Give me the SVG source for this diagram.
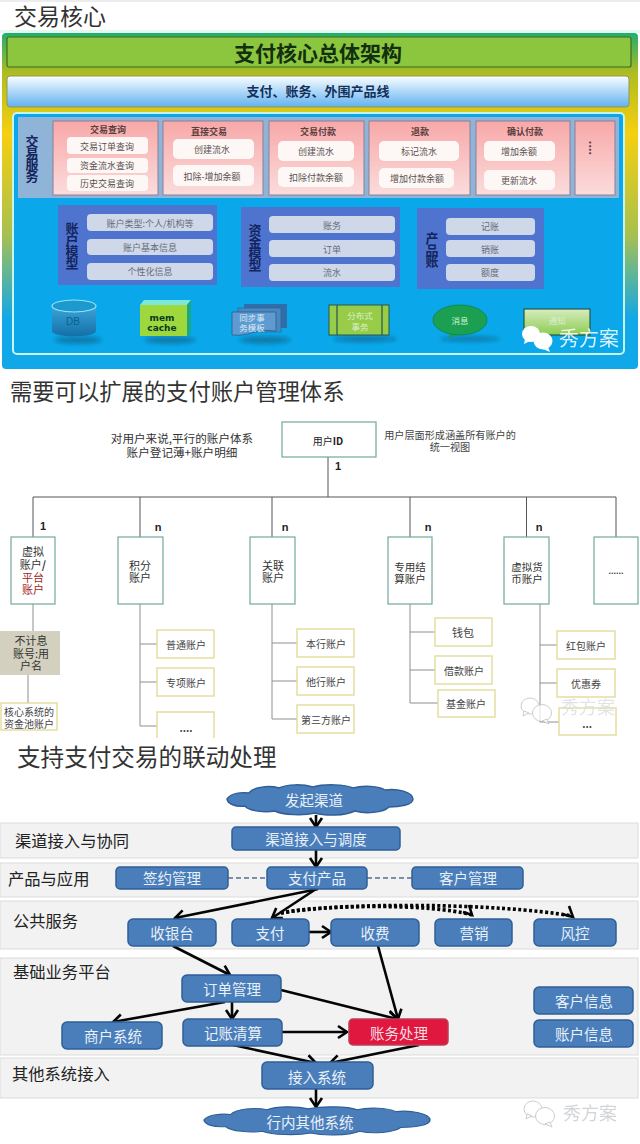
<svg xmlns="http://www.w3.org/2000/svg" width="640" height="1144" viewBox="0 0 640 1144">
<style>
text{font-family:"Noto Sans CJK SC","Liberation Sans",sans-serif;text-anchor:middle;dominant-baseline:central}
.h{font-size:23px;fill:#333;text-anchor:start}
.cell{fill:url(#pink);stroke:#8a7f96;stroke-width:1}
.mini{fill:#fdf8f6}
.t9{font-size:9px;fill:#5a5050}
.tb{font-size:9px;fill:#5a4040;font-weight:700}
.model{fill:#4f74d0}
.pill{fill:#cfd8e8}
.side{font-size:13px;font-weight:700;fill:#14245c;writing-mode:vertical-rl;letter-spacing:-1.5px}
.tp{font-size:9px;fill:#666c7c}
.wt{font-size:8.5px;fill:#d8f0d0}
.box{fill:#fff;stroke:#72a89c;stroke-width:1.2}
.sub{fill:#fff;stroke:#e2dc9a;stroke-width:1.4}
.wire{fill:none;stroke:#8d9090;stroke-width:1}
.bus{fill:none;stroke:#555;stroke-width:1}
.t11{font-size:11px;fill:#333}
.t10{font-size:10px;fill:#444}
.num{font-size:11px;fill:#222;font-weight:700;font-family:"Liberation Sans",sans-serif}
.band{fill:#f2f2f2;stroke:#dcdcdc;stroke-width:1}
.lab{font-size:16.3px;fill:#222;text-anchor:start}
.n{fill:#4a7ebb;stroke:#2f5f98;stroke-width:1.5}
.nt{font-size:14.5px;fill:#e8f0f8}
.a{fill:none;stroke:#050505;stroke-width:2.6;marker-end:url(#arr)}
.d{fill:none;stroke:#050505;stroke-width:3.6;stroke-dasharray:3 2.4;}
.g{fill:none;stroke:#7c8ea8;stroke-width:2;stroke-dasharray:5 3}
.wm{font-size:20px}
</style>
<defs>
<linearGradient id="pink" x1="0" y1="0" x2="0" y2="1"><stop offset="0" stop-color="#f8a8a8"/><stop offset="1" stop-color="#fbdcdc"/></linearGradient>
<linearGradient id="outer" x1="0" y1="0" x2="0" y2="1"><stop offset="0" stop-color="#1fae70"/><stop offset=".12" stop-color="#b0bc20"/><stop offset=".3" stop-color="#f6cf10"/><stop offset=".6" stop-color="#a8c050"/><stop offset=".85" stop-color="#10a8e8"/></linearGradient>
<linearGradient id="sky" x1="0" y1="0" x2="0" y2="1"><stop offset="0" stop-color="#fbfdff"/><stop offset="1" stop-color="#62b2f0"/></linearGradient>
<linearGradient id="green" x1="0" y1="0" x2="0" y2="1"><stop offset="0" stop-color="#d8ecc0"/><stop offset="1" stop-color="#8ccc50"/></linearGradient>
<linearGradient id="dbg" x1="0" y1="0" x2="0" y2="1"><stop offset="0" stop-color="#3aa4d8"/><stop offset="1" stop-color="#1470a8"/></linearGradient>
<filter id="bl" x="-30%" y="-100%" width="160%" height="300%"><feGaussianBlur stdDeviation="2"/></filter>
<marker id="arr" markerUnits="userSpaceOnUse" markerWidth="16" markerHeight="16" refX="13" refY="8" orient="auto"><path d="M4,2 L13,8 L4,14" fill="none" stroke="#050505" stroke-width="2.6"/></marker>
<path id="cloud" d="M0,14 C4,8 14,7 22,8 C26,2 42,0 52,3 C60,-1 76,-1 86,2 C96,-1 118,-1 126,3 C136,0 152,1 158,5 C170,3 186,7 186,14 C186,20 172,22 162,22 C156,28 138,29 128,26 C118,31 98,31 88,28 C76,31 56,30 48,26 C38,28 22,26 18,21 C8,22 1,19 0,14 Z"/>
<g id="wx"><ellipse cx="9" cy="9" rx="9" ry="8"/><path d="M3,14 L2,19 L8,16 Z"/><ellipse cx="21" cy="16" rx="9.5" ry="8.5"/><path d="M26,22 L28,27 L21,24 Z"/></g>
</defs>
<rect width="640" height="1144" fill="#fff"/>
<rect x="0" y="0" width="640" height="2" fill="#ececec"/>
<rect x="0" y="30" width="640" height="3" fill="#e4f8ee"/>

<text class="h" x="14" y="15">交易核心</text>
<text class="h" x="10" y="390" style="font-size:22.3px">需要可以扩展的支付账户管理体系</text>
<text class="h" x="17" y="756" style="font-size:23.6px">支持支付交易的联动处理</text>

<g id="panel-frame">
<rect x="2" y="33" width="636" height="336" rx="4" fill="url(#outer)"/>
<rect x="7" y="37" width="624" height="30" rx="2" fill="#8cc63f" stroke="#3f6a1c" stroke-width="1.2"/>
<text x="318" y="52" style="font-size:21px;font-weight:700;fill:#123010">支付核心总体架构</text>
<rect x="7" y="76" width="622" height="31" rx="3" fill="url(#sky)" stroke="#8a9a50" stroke-width="1"/>
<text x="318" y="90" style="font-size:13px;font-weight:700;fill:#14305a">支付、账务、外围产品线</text>
<rect x="13" y="113" width="611" height="241" rx="4" fill="#0aa8ea" stroke="#c8f4ee" stroke-width="2"/>
<rect x="18" y="117" width="601" height="81" fill="#8fb4d8"/>
<text class="side" x="32" y="158">交易服务</text>
</g>

<g id="cell-query"><rect class="cell" x="53" y="121" width="105" height="74"/><text class="tb" x="108" y="129">交易查询</text><rect class="mini" x="67" y="137" width="81" height="17" rx="4"/><text class="t9" x="107" y="146">交易订单查询</text><rect class="mini" x="67" y="158" width="81" height="15" rx="4"/><text class="t9" x="107" y="165">资金流水查询</text><rect class="mini" x="67" y="175" width="81" height="16" rx="4"/><text class="t9" x="107" y="183">历史交易查询</text></g>
<g id="cell-direct"><rect class="cell" x="163" y="121" width="100" height="74"/><text class="tb" x="209" y="131">直接交易</text><rect class="mini" x="173" y="139" width="81" height="20" rx="5"/><text class="t9" x="212" y="149">创建流水</text><rect class="mini" x="173" y="165" width="81" height="21" rx="5"/><text class="t9" x="212" y="176">扣除-增加余额</text></g>
<g id="cell-pay"><rect class="cell" x="269" y="121" width="95" height="74"/><text class="tb" x="318" y="131">交易付款</text><rect class="mini" x="278" y="141" width="76" height="20" rx="5"/><text class="t9" x="316" y="151">创建流水</text><rect class="mini" x="278" y="167" width="76" height="20" rx="5"/><text class="t9" x="316" y="177">扣除付款余额</text></g>
<g id="cell-refund"><rect class="cell" x="369" y="121" width="101" height="74"/><text class="tb" x="420" y="131">退款</text><rect class="mini" x="379" y="141" width="80" height="20" rx="5"/><text class="t9" x="419" y="151">标记流水</text><rect class="mini" x="379" y="168" width="75" height="20" rx="5"/><text class="t9" x="417" y="178">增加付款余额</text></g>
<g id="cell-confirm"><rect class="cell" x="476" y="121" width="94" height="74"/><text class="tb" x="525" y="131">确认付款</text><rect class="mini" x="484" y="141" width="71" height="20" rx="5"/><text class="t9" x="519" y="151">增加余额</text><rect class="mini" x="484" y="170" width="71" height="20" rx="5"/><text class="t9" x="519" y="180">更新流水</text></g>
<g id="cell-more"><rect class="cell" x="575" y="121" width="40" height="74"/><text class="tb" x="594" y="148" transform="rotate(90 594 148)" style="font-size:11px">....</text></g>

<g id="model-account"><rect class="model" x="58" y="205" width="159" height="80"/><text class="side" x="72" y="245">账户模型</text><rect class="pill" x="87" y="214" width="126" height="17" rx="4"/><text class="tp" x="150" y="223">账户类型:个人/机构等</text><rect class="pill" x="87" y="239" width="126" height="16" rx="4"/><text class="tp" x="150" y="247">账户基本信息</text><rect class="pill" x="87" y="263" width="126" height="17" rx="4"/><text class="tp" x="150" y="271">个性化信息</text></g>
<g id="model-capital"><rect class="model" x="241" y="207" width="159" height="80"/><text class="side" x="255" y="247">资金模型</text><rect class="pill" x="269" y="216" width="126" height="17" rx="4"/><text class="tp" x="332" y="225">账务</text><rect class="pill" x="269" y="240" width="126" height="17" rx="4"/><text class="tp" x="332" y="249">订单</text><rect class="pill" x="269" y="264" width="126" height="17" rx="4"/><text class="tp" x="332" y="272">流水</text></g>
<g id="model-product"><rect class="model" x="417" y="208" width="127" height="81"/><text class="side" x="432" y="249">产品账</text><rect class="pill" x="446" y="218" width="89" height="17" rx="4"/><text class="tp" x="490" y="226">记账</text><rect class="pill" x="446" y="240" width="89" height="17" rx="4"/><text class="tp" x="490" y="249">销账</text><rect class="pill" x="446" y="264" width="89" height="17" rx="4"/><text class="tp" x="490" y="272">额度</text></g>

<g id="icon-db"><ellipse cx="78" cy="340" rx="24" ry="3.500" fill="#1078a8" filter="url(#bl)"/><path d="M52,306 V331 C52,338 96,338 96,331 V306 Z" fill="url(#dbg)"/><ellipse cx="74" cy="306" rx="22" ry="6" fill="#1c9ad0" stroke="#9fe0f4" stroke-width="1.200"/><text x="73" y="321" style="font-size:10px;fill:#0f5c90;font-family:'Liberation Sans',sans-serif">DB</text></g>
<g id="icon-memcache"><ellipse cx="170" cy="340" rx="26" ry="3.500" fill="#1078a8" filter="url(#bl)"/><path d="M144,300 L191,300 L187,305 H140 Z" fill="#7ee8d8"/><path d="M187,305 L191,300 V332 L187,336 Z" fill="#1aa880"/><rect x="140" y="305" width="47" height="31" fill="#9ed83c"/><text style="font-size:9px;font-weight:700;fill:#0a3a24;font-family:'DejaVu Sans',sans-serif"><tspan x="162" y="318">mem</tspan><tspan x="162" dy="9.500">cache</tspan></text></g>
<g id="icon-template"><ellipse cx="265" cy="340" rx="26" ry="3.500" fill="#1078a8" filter="url(#bl)"/><rect x="244" y="304" width="43" height="24" fill="#2f6ea8"/><rect x="238" y="308" width="43" height="24" fill="#4a88c0" stroke="#2a5e90" stroke-width=".6"/><path d="M232,312 H276 V331 Q262,329 248,334 Q240,336 232,335 Z" fill="#5f9ad0" stroke="#2a5e90" stroke-width=".8"/><text style="font-size:8.500px;fill:#d8ecf8"><tspan x="252" y="317">同步事</tspan><tspan x="252" dy="10">务模板</tspan></text></g>
<g id="icon-dist"><ellipse cx="365" cy="339" rx="32" ry="3" fill="#1078a8" filter="url(#bl)"/><rect x="329" y="305" width="60" height="30" fill="#98cc48" stroke="#24564c" stroke-width="1"/><path d="M337,305 V335 M382,305 V335" stroke="#24564c" stroke-width="1.200"/><text class="wt"><tspan x="360" y="315">分布式</tspan><tspan x="360" dy="11">事务</tspan></text></g>
<g id="icon-msg"><ellipse cx="470" cy="339" rx="30" ry="2.500" fill="#1078a8" filter="url(#bl)"/><path d="M450,333 L449,338 L458,335 Z" fill="#1aa050"/><ellipse cx="460" cy="320" rx="27" ry="15" fill="#1aa050" stroke="#10804a" stroke-width=".8"/><text class="wt" x="460" y="320">消息</text></g>
<g id="icon-notify"><rect x="524" y="309" width="66" height="26" fill="url(#green)" stroke="#24564c" stroke-width="1.200"/><text class="wt" x="557" y="320">通知</text></g>
<g id="watermark-1"><use href="#wx" x="522" y="325" fill="#fff"/><text class="wm" x="589" y="337" fill="#fff" opacity=".85">秀方案</text></g>

<g id="connectors-accounts">
<path class="bus" d="M33,497 H616 M328,457 V497 M33,497 V537 M140,497 V537 M272,497 V537 M410,497 V537 M526.500,497 V537 M616,497 V537"/>
<path class="wire" d="M33,604 V631 M28,675 V703 M140,604 V726 H157 M140,644 H157 M140,682 H157 M272,604 V719 H297 M272,643 H297 M272,681 H297 M410,604 V703 H438 M410,632 H435 M410,670 H435 M540,604 V722 H559 M540,645 H557 M540,683 H557"/>
</g>
<g id="acc-user"><rect class="box" x="282" y="422" width="94" height="35"/><text x="328" y="440" style="font-size:10px;fill:#222">用户<tspan font-weight="700">ID</tspan></text></g>
<g id="acc-notes"><text class="t11" style="font-size:11.6px"><tspan x="182" y="438">对用户来说,平行的账户体系</tspan><tspan x="182" dy="14">账户登记薄+账户明细</tspan></text><text class="t10" style="font-size:10.150px"><tspan x="450" y="434">用户层面形成涵盖所有账户的</tspan><tspan x="450" dy="12">统一视图</tspan></text>
<text class="num" x="338" y="466">1</text><text class="num" x="43" y="526">1</text><text class="num" x="158" y="527">n</text><text class="num" x="285" y="527">n</text><text class="num" x="428" y="527">n</text><text class="num" x="539" y="527">n</text></g>
<g id="acc-virtual"><rect class="box" x="11" y="537" width="44" height="67"/><text class="t11"><tspan x="33" y="551">虚拟</tspan><tspan x="33" dy="13">账户<tspan font-weight="700">/</tspan></tspan><tspan x="33" dy="13" style="fill:#a02828">平台</tspan><tspan x="33" dy="12" style="fill:#a02828">账户</tspan></text></g>
<g id="acc-points"><rect class="box" x="118" y="537" width="45" height="67"/><text class="t11"><tspan x="140" y="565">积分</tspan><tspan x="140" dy="12">账户</tspan></text></g>
<g id="acc-linked"><rect class="box" x="250" y="537" width="45" height="67"/><text class="t11"><tspan x="273" y="565">关联</tspan><tspan x="273" dy="12">账户</tspan></text></g>
<g id="acc-settle"><rect class="box" x="388" y="537" width="44" height="67"/><text class="t11" style="font-size:10.500px"><tspan x="410" y="566">专用结</tspan><tspan x="410" dy="12">算账户</tspan></text></g>
<g id="acc-coin"><rect class="box" x="504" y="537" width="45" height="67"/><text class="t11" style="font-size:10.500px"><tspan x="527" y="566">虚拟货</tspan><tspan x="527" dy="12">币账户</tspan></text></g>
<g id="acc-more"><rect class="box" x="594" y="537" width="44" height="67"/><text x="616" y="571" style="font-size:9px;font-weight:700;fill:#444;font-family:'Liberation Sans',sans-serif">......</text></g>
<g id="acc-nointerest"><rect x="0" y="631" width="60" height="44" fill="#d3d0bf"/><text class="t11"><tspan x="31" y="640">不计息</tspan><tspan x="31" dy="13">账号:用</tspan><tspan x="31" dy="12">户名</tspan></text></g>
<g id="acc-pool"><rect class="sub" x="1" y="703" width="56" height="27"/><text class="t10"><tspan x="29" y="711">核心系统的</tspan><tspan x="29" dy="12">资金池账户</tspan></text></g>
<g id="acc-normal"><rect class="sub" x="157" y="630" width="57" height="28"/><text class="t10" x="186" y="644">普通账户</text></g>
<g id="acc-special"><rect class="sub" x="157" y="668" width="57" height="28"/><text class="t10" x="186" y="682">专项账户</text></g>
<g id="acc-dots1"><path class="sub" d="M157,738 V712 H214 V738"/><text class="t10" x="186" y="727" style="font-weight:700">....</text></g>
<g id="acc-own"><rect class="sub" x="297" y="629" width="57" height="28"/><text class="t10" x="326" y="643">本行账户</text></g>
<g id="acc-other"><rect class="sub" x="297" y="667" width="57" height="28"/><text class="t10" x="326" y="681">他行账户</text></g>
<g id="acc-third"><rect class="sub" x="297" y="705" width="57" height="28"/><text class="t10" x="326" y="719">第三方账户</text></g>
<g id="acc-wallet"><rect class="sub" x="435" y="618" width="57" height="28"/><text class="t10" x="463" y="632" style="font-size:11px">钱包</text></g>
<g id="acc-loan"><rect class="sub" x="435" y="656" width="57" height="28"/><text class="t10" x="464" y="670">借款账户</text></g>
<g id="acc-fund"><rect class="sub" x="438" y="690" width="57" height="27"/><text class="t10" x="466" y="703">基金账户</text></g>
<g id="acc-red"><rect class="sub" x="557" y="631" width="58" height="28"/><text class="t10" x="586" y="645">红包账户</text></g>
<g id="acc-coupon"><rect class="sub" x="557" y="669" width="58" height="28"/><text class="t10" x="586" y="683">优惠券</text></g>
<g id="acc-dots2"><rect class="sub" x="559" y="708" width="57" height="27"/><text class="t10" x="587" y="723" style="font-weight:700">...</text></g>
<g id="watermark-2" opacity=".75"><use href="#wx" x="521" y="697" fill="#fff" stroke="#b8bcc0" stroke-width="1"/><text class="wm" x="588" y="706" fill="#d8dce0" style="font-size:18px">秀方案</text></g>

<g id="bands">
<rect class="band" x="0" y="823" width="638" height="35"/><text class="lab" x="15" y="840">渠道接入与协同</text>
<rect class="band" x="0" y="863" width="638" height="34"/><text class="lab" x="8" y="878">产品与应用</text>
<rect class="band" x="0" y="901" width="638" height="48"/><text class="lab" x="13" y="920">公共服务</text>
<rect class="band" x="0" y="958" width="638" height="97"/><text class="lab" x="13" y="971">基础业务平台</text>
<rect class="band" x="0" y="1058" width="638" height="40"/><text class="lab" x="12" y="1073">其他系统接入</text>
</g>
<g id="connectors">
<path class="g" d="M228,878 H267 M367,878 H412"/>
<path class="a" d="M316,815 V827"/>
<path class="a" d="M316,850 V867"/>
<path class="a" d="M318,889 L175,918"/>
<path class="a" d="M316,889 L272,918"/>
<path class="d" d="M281,913 C320,905 430,903 472,915"/>
<path class="d" d="M281,913 C340,902 500,903 572,916"/>
<path fill="none" stroke="#050505" stroke-width="2.600" d="M463,912 L472,915 L469,905 M562,914 L573,917 L569,906"/>
<path class="a" d="M309,932 H331"/>
<path class="a" d="M173,946 L230,975"/>
<path class="a" d="M378,946 L398,1019"/>
<path class="a" d="M281,990 L397,1019"/>
<path class="a" d="M282,1032 H347"/>
<path class="a" d="M232,1002 V1019"/>
<path class="a" d="M225,1002 L113,1022"/>
<path class="a" d="M233,1045 L316,1063"/>
<path class="a" d="M419,1045 L330,1063"/>
<path class="a" d="M316,1089 V1107"/>
</g>
<g id="n-origin"><use href="#cloud" transform="translate(227,785)" class="n"/><text class="nt" x="314" y="799">发起渠道</text></g>
<g id="n-channel"><rect class="n" x="232" y="827" width="168" height="23" rx="4"/><text class="nt" x="316" y="838">渠道接入与调度</text></g>
<g id="n-sign"><rect class="n" x="116" y="867" width="112" height="22" rx="4"/><text class="nt" x="172" y="877">签约管理</text></g>
<g id="n-product"><rect class="n" x="267" y="867" width="100" height="22" rx="4"/><text class="nt" x="317" y="877">支付产品</text></g>
<g id="n-customer"><rect class="n" x="412" y="867" width="111" height="22" rx="4"/><text class="nt" x="468" y="877">客户管理</text></g>
<g id="n-cashier"><rect class="n" x="128" y="919" width="88" height="27" rx="5"/><text class="nt" x="172" y="932">收银台</text></g>
<g id="n-pay"><rect class="n" x="232" y="919" width="77" height="27" rx="5"/><text class="nt" x="270" y="932">支付</text></g>
<g id="n-fee"><rect class="n" x="331" y="919" width="88" height="27" rx="5"/><text class="nt" x="375" y="932">收费</text></g>
<g id="n-market"><rect class="n" x="435" y="919" width="77" height="27" rx="5"/><text class="nt" x="474" y="932">营销</text></g>
<g id="n-risk"><rect class="n" x="534" y="919" width="82" height="27" rx="5"/><text class="nt" x="575" y="932">风控</text></g>
<g id="n-order"><rect class="n" x="182" y="975" width="99" height="27" rx="5"/><text class="nt" x="232" y="988">订单管理</text></g>
<g id="n-clear"><rect class="n" x="183" y="1019" width="99" height="27" rx="5"/><text class="nt" x="233" y="1032">记账清算</text></g>
<g id="n-merchant"><rect class="n" x="62" y="1022" width="100" height="27" rx="5"/><text class="nt" x="113" y="1035">商户系统</text></g>
<g id="n-ledger"><rect x="349" y="1019" width="99" height="26" rx="4" fill="#e0173f" stroke="#b84058" stroke-width="1.500"/><text class="nt" x="399" y="1032" style="fill:#f8dce0">账务处理</text></g>
<g id="n-custinfo"><rect class="n" x="534" y="987" width="99" height="27" rx="5"/><text class="nt" x="584" y="1000">客户信息</text></g>
<g id="n-acctinfo"><rect class="n" x="534" y="1020" width="99" height="27" rx="5"/><text class="nt" x="584" y="1033">账户信息</text></g>
<g id="n-access"><rect class="n" x="262" y="1062" width="111" height="27" rx="5"/><text class="nt" x="317" y="1076">接入系统</text></g>
<g id="n-bank"><use href="#cloud" transform="translate(204,1107) scale(1.215,.93)" class="n" style="stroke-width:1.200"/><text class="nt" x="310" y="1121">行内其他系统</text></g>
<g id="watermark-3" opacity=".75"><use href="#wx" x="524" y="1100" fill="#fff" stroke="#b8bcc0" stroke-width="1"/><text class="wm" x="590" y="1112" fill="#c4c8cc" style="font-size:18px">秀方案</text></g>
</svg>
